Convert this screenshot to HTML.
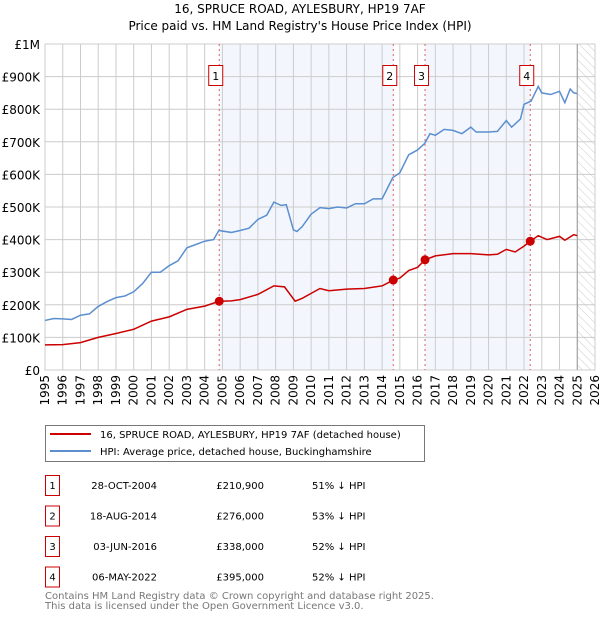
<!DOCTYPE html>
<html><head><meta charset="utf-8"><style>
body{margin:0;background:#fff;font-family:"Liberation Sans","DejaVu Sans",sans-serif;}
svg text{font-family:"DejaVu Sans","Liberation Sans",sans-serif;}
</style></head><body>
<svg id="c" width="600" height="620" xmlns="http://www.w3.org/2000/svg">
<defs><pattern id="hatch" width="6" height="6" patternUnits="userSpaceOnUse" patternTransform="rotate(-45)"><line x1="0" y1="0" x2="0" y2="6" stroke="#ccc" stroke-width="1"/></pattern></defs>
<text x="300" y="13" text-anchor="middle" font-size="12">16, SPRUCE ROAD, AYLESBURY, HP19 7AF</text>
<text x="300" y="30" text-anchor="middle" font-size="12">Price paid vs. HM Land Registry's House Price Index (HPI)</text>
<g id="plot"></g>
<g>
<rect x="45.5" y="425.5" width="379" height="36" fill="#fff" stroke="#777"/>
<line x1="50" y1="434" x2="91" y2="434" stroke="#cc0000" stroke-width="2"/>
<text x="100" y="438" font-size="10">16, SPRUCE ROAD, AYLESBURY, HP19 7AF (detached house)</text>
<line x1="50" y1="451" x2="91" y2="451" stroke="#5b8fd0" stroke-width="2"/>
<text x="100" y="455" font-size="10">HPI: Average price, detached house, Buckinghamshire</text>
</g>
<g id="tbl" font-size="10"></g>
<text x="45" y="599" font-size="10" fill="#777">Contains HM Land Registry data © Crown copyright and database right 2025.</text>
<text x="45" y="609" font-size="10" fill="#777">This data is licensed under the Open Government Licence v3.0.</text>
</svg>
<script>
const hpiX=[1995,1995.5,1996,1996.5,1997,1997.5,1998,1998.5,1999,1999.5,2000,2000.5,2001,2001.5,2002,2002.5,2003,2003.5,2004,2004.5,2004.8,2005.5,2006,2006.5,2007,2007.5,2007.9,2008.3,2008.6,2009,2009.2,2009.5,2010,2010.5,2011,2011.5,2012,2012.5,2013,2013.5,2014,2014.6,2015,2015.5,2016,2016.4,2016.7,2017,2017.5,2018,2018.5,2019,2019.3,2020,2020.5,2021,2021.3,2021.8,2022,2022.4,2022.8,2023,2023.5,2024,2024.3,2024.6,2024.8,2025];
const hpiY=[152,158,157,155,168,172,195,210,222,227,240,265,300,300,320,335,375,385,395,400,428,422,428,435,462,475,515,505,507,430,425,440,478,498,495,500,497,510,510,525,525,590,605,660,675,695,725,720,738,735,725,745,730,730,732,765,745,770,815,825,870,850,845,855,820,862,850,848];
const ppX=[1995,1996,1997,1998,1999,2000,2001,2002,2003,2004,2004.82,2005.5,2006,2007,2007.9,2008.5,2009.1,2009.5,2010,2010.5,2011,2012,2013,2014,2014.63,2015,2015.5,2016,2016.42,2017,2018,2019,2020,2020.5,2021,2021.5,2022,2022.35,2022.8,2023.3,2024,2024.3,2024.8,2025];
const ppY=[77,78,84,100,112,125,150,163,186,196,210.9,212,216,232,258,255,211,220,235,250,243,248,250,258,276,282,305,315,338,350,357,357,353,355,370,362,380,395,412,400,410,398,415,412];
const saleX=[2004.82,2014.63,2016.42,2022.35];
const saleY=[210.9,276,338,395];
const saleDates=["28-OCT-2004","18-AUG-2014","03-JUN-2016","06-MAY-2022"];
const salePrices=["£210,900","£276,000","£338,000","£395,000"];
const saleDiff=["51% ↓ HPI","53% ↓ HPI","52% ↓ HPI","52% ↓ HPI"];
const yTicks=[0,100,200,300,400,500,600,700,800,900,1000];
const yLabels=["£0","£100K","£200K","£300K","£400K","£500K","£600K","£700K","£800K","£900K","£1M"];
const xYears=[1995,1996,1997,1998,1999,2000,2001,2002,2003,2004,2005,2006,2007,2008,2009,2010,2011,2012,2013,2014,2015,2016,2017,2018,2019,2020,2021,2022,2023,2024,2025,2026];

const NS="http://www.w3.org/2000/svg";
const L=45,R=595,T=44,B=370;
const sx=v=>L+(v-1995)*(R-L)/31, sy=v=>B-v*(B-T)/1000;
const g=document.getElementById('plot');
function el(t,a,p){const e=document.createElementNS(NS,t);for(const k in a)e.setAttribute(k,a[k]);(p||g).appendChild(e);return e;}
// shading
[[0,1],[2,3]].forEach((p,i)=>{const r=el('rect',{x:sx(saleX[p[0]]),y:T,width:sx(saleX[p[1]])-sx(saleX[p[0]]),height:B-T,fill:'#eef3fc',opacity:0.7});

});
const h=el('rect',{x:sx(2025),y:T,width:R-sx(2025),height:B-T,fill:'url(#hatch)'});


// grid
yTicks.forEach((v,i)=>{el('line',{x1:L,x2:R,y1:sy(v),y2:sy(v),stroke:'#ccc'});
const t=el('text',{x:L-5,y:sy(v)+5,'text-anchor':'end','font-size':12});t.textContent=yLabels[i];

});
xYears.forEach(v=>{el('line',{x1:sx(v),x2:sx(v),y1:T,y2:B,stroke:'#ccc'});
const t=el('text',{x:0,y:0,'text-anchor':'end','font-size':12,transform:`translate(${sx(v)+4},${B+5}) rotate(-90)`});t.textContent=v;

});
el('rect',{x:L,y:T,width:R-L,height:B-T,fill:'none',stroke:'#ccc'});
el('line',{x1:sx(2025),x2:sx(2025),y1:T,y2:B,stroke:'#999'});
// sale markers lines & boxes
saleX.forEach((x,i)=>{el('line',{x1:sx(x),x2:sx(x),y1:T,y2:B,stroke:'#e06060','stroke-dasharray':'2,3'});
const b=el('g',{});


el('rect',{x:sx(x)-10.5,y:65.5,width:14,height:20,fill:'#fff',stroke:'#cc0000'},b);
const t=el('text',{x:sx(x)-3.5,y:80,'text-anchor':'middle','font-size':11},b);t.textContent=i+1;});
function line(xs,ys,c,n){const p=el('polyline',{points:xs.map((x,i)=>sx(x)+','+sy(ys[i])).join(' '),fill:'none',stroke:c,'stroke-width':1.5});

}
line(hpiX,hpiY,'#5b8fd0','hpi-line');
line(ppX,ppY,'#cc0000','price-paid-line');
saleX.forEach((x,i)=>{const c=el('circle',{cx:sx(x),cy:sy(saleY[i]),r:4.5,fill:'#cc0000'});

});
// table
const tb=document.getElementById('tbl');
saleDates.forEach((d,i)=>{const y=475+i*30.5;
const row=el('g',{},tb);


el('rect',{x:45.5,y:y+0.5,width:14,height:20,fill:'#fff',stroke:'#cc0000'},row);
let t=el('text',{x:52.5,y:y+14,'text-anchor':'middle'},row);t.textContent=i+1;
t=el('text',{x:157,y:y+14,'text-anchor':'end'},row);t.textContent=d;
t=el('text',{x:264,y:y+14,'text-anchor':'end'},row);t.textContent=salePrices[i];
t=el('text',{x:312,y:y+14},row);t.textContent=saleDiff[i];});
</script>
</body></html>
